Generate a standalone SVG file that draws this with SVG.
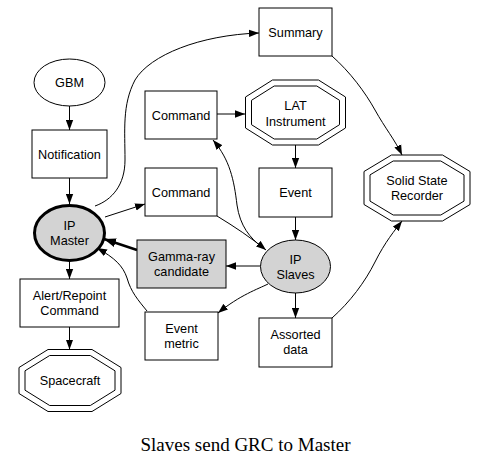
<svg xmlns="http://www.w3.org/2000/svg" width="487" height="467" viewBox="0 0 487 467">
<style>
.n{fill:#fff;stroke:#000;stroke-width:1}
.g{fill:#d3d3d3;stroke:#000;stroke-width:1}
.o{fill:none;stroke:#000;stroke-width:1}
.bold{stroke-width:3}
text{font-family:"Liberation Sans",Arial,sans-serif;font-size:12.7px;text-anchor:middle;fill:#000}
.e{fill:none;stroke:#000;stroke-width:1;marker-end:url(#a)}
.cap{font-family:"Liberation Serif","Times New Roman",serif;font-size:19px}
</style>
<defs>
<marker id="a" markerUnits="userSpaceOnUse" markerWidth="10" markerHeight="8" refX="10" refY="4" orient="auto"><path d="M0,0.3 L10,4 L0,7.7 z" fill="#000"/></marker>
<marker id="b" markerUnits="userSpaceOnUse" markerWidth="12" markerHeight="9" refX="12" refY="4.5" orient="auto"><path d="M0,0 L12,4.5 L0,9 z" fill="#000"/></marker>
</defs>
<rect width="487" height="467" fill="#fff"/>
<g id="edges">
<path class="e" d="M69.5,106 L69.5,130"/>
<path class="e" d="M69.5,178 L69.5,204"/>
<path class="e" d="M95,206 C112,200 125,185 125,160 C125,130 122,105 135,80 C150,55 200,35 259,33"/>
<path class="e" d="M105,217 L145,204"/>
<path class="e" d="M217,114 L245,114"/>
<path class="e" d="M295.5,145 L295.5,168"/>
<path class="e" d="M295.5,217 L295.5,240"/>
<path class="e" d="M217,216 C235,227 250,237 266,250"/>
<path class="e" d="M262,247 C250,238 240,226 237,205 C234,180 230,160 213,140"/>
<path class="e" d="M260.5,266 L226,266"/>
<path d="M137,250 L104,239" fill="none" stroke="#000" stroke-width="2.5" marker-end="url(#b)"/>
<path class="e" d="M268,284 C258,289 240,295 218,313"/>
<path class="e" d="M147,311 C138,300 131,292 127,278 C123,266 115,258 97,248"/>
<path class="e" d="M69.5,262 L69.5,279"/>
<path class="e" d="M69.5,327 L69.5,349.5"/>
<path class="e" d="M295.5,293 L295.5,318"/>
<path class="e" d="M332,56 C350,72 365,92 375,110 C385,128 395,140 402,155"/>
<path class="e" d="M332,318 C350,302 365,282 375,262 C385,242 395,230 402,221"/>
</g>
<g id="gbm"><ellipse class="n" cx="69.5" cy="82.5" rx="35.5" ry="23.5"/><text x="69.5" y="87">GBM</text></g>
<g id="notification"><rect class="n" x="32" y="130" width="75" height="48"/><text x="69.5" y="158.5">Notification</text></g>
<g id="ipmaster"><ellipse class="g bold" cx="69.5" cy="233" rx="35" ry="27.5"/><text x="69.5" y="230">IP</text><text x="69.5" y="245">Master</text></g>
<g id="alert"><rect class="n" x="20" y="279" width="99" height="48"/><text x="69.5" y="300">Alert/Repoint</text><text x="69.5" y="315">Command</text></g>
<g id="spacecraft"><polygon class="n" points="48,349.5 92,349.5 121,367.5 121,393.5 92,411.5 48,411.5 19,393.5 19,367.5"/><polygon class="o" points="49.7,355.5 90.3,355.5 115,370.8 115,390.2 90.3,405.5 49.7,405.5 25,390.2 25,370.8"/><text x="70" y="385">Spacecraft</text></g>
<g id="command1"><rect class="n" x="145" y="91" width="72" height="48"/><text x="181" y="119.5">Command</text></g>
<g id="command2"><rect class="n" x="145" y="168" width="72" height="48"/><text x="181" y="196.5">Command</text></g>
<g id="grc"><rect class="g" x="137" y="240" width="89" height="48"/><text x="181.5" y="261">Gamma-ray</text><text x="181.5" y="276">candidate</text></g>
<g id="eventmetric"><rect class="n" x="145" y="312" width="73" height="48"/><text x="181.5" y="333">Event</text><text x="181.5" y="348">metric</text></g>
<g id="summary"><rect class="n" x="259" y="8" width="73" height="48"/><text x="295.5" y="36.5">Summary</text></g>
<g id="lat"><polygon class="n" points="272.5,80 318.5,80 345.5,97 345.5,128 318.5,145 272.5,145 245.5,128 245.5,97"/><polygon class="o" points="274.2,86 316.8,86 339.5,100.3 339.5,124.7 316.8,139 274.2,139 251.5,124.7 251.5,100.3"/><text x="295.5" y="110">LAT</text><text x="295.5" y="125.5">Instrument</text></g>
<g id="event"><rect class="n" x="259" y="168" width="73" height="49"/><text x="295.5" y="197">Event</text></g>
<g id="ipslaves"><ellipse class="g" cx="295.5" cy="266.5" rx="35" ry="26.5"/><text x="295.5" y="263.5">IP</text><text x="295.5" y="278.5">Slaves</text></g>
<g id="assorted"><rect class="n" x="259" y="318" width="73" height="49"/><text x="295.5" y="339">Assorted</text><text x="295.5" y="354">data</text></g>
<g id="ssr"><polygon class="n" points="391.5,155 442.5,155 470,171.5 470,204.5 442.5,221 391.5,221 364,204.5 364,171.5"/><polygon class="o" points="393.2,161 440.8,161 464,174.9 464,201.1 440.8,215 393.2,215 370,201.1 370,174.9"/><text x="417" y="185">Solid State</text><text x="417" y="200">Recorder</text></g>
<text class="cap" x="245.5" y="451">Slaves send GRC to Master</text>
</svg>
